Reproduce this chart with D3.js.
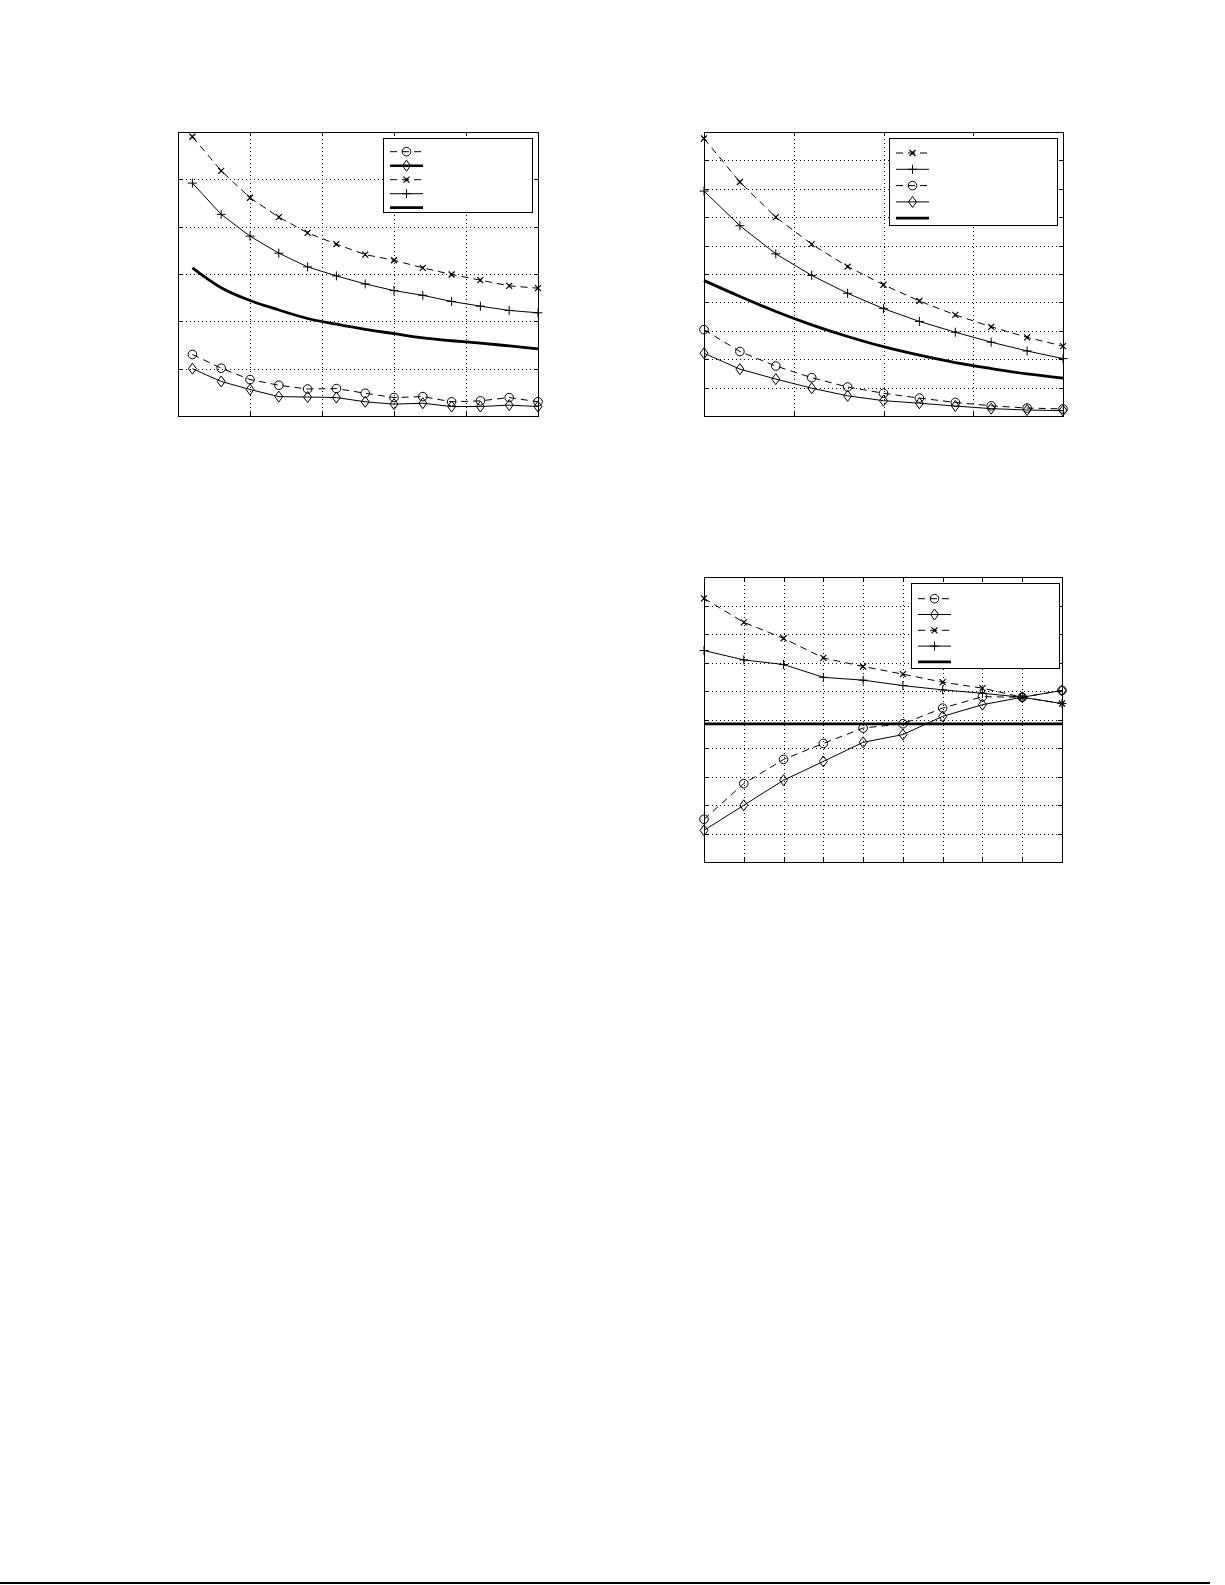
<!DOCTYPE html>
<html>
<head>
<meta charset="utf-8">
<script src="https://cdn.jsdelivr.net/npm/d3@7"></script>
<style>
  body { margin: 0; background: #fff; }
  svg { display: block; }
</style>
</head>
<body>
<div id="fig"></div>
<script>
// panel A (top left) - 13 runs
var xA = [1, 2, 3, 4, 5, 6, 7, 8, 9, 10, 11, 12, 13];
var aCircle = [1.30, 1.01, 0.77, 0.65, 0.57, 0.58, 0.48, 0.39, 0.41, 0.30, 0.32, 0.39, 0.30];
var aDiamond = [1.00, 0.73, 0.56, 0.41, 0.40, 0.39, 0.30, 0.25, 0.27, 0.20, 0.20, 0.23, 0.20];
var aCross = [5.90, 5.18, 4.61, 4.20, 3.87, 3.63, 3.41, 3.29, 3.13, 2.99, 2.87, 2.75, 2.70];
var aPlus = [4.92, 4.26, 3.80, 3.44, 3.15, 2.96, 2.79, 2.65, 2.55, 2.42, 2.32, 2.23, 2.18];
var aThick = [3.13, 2.71, 2.44, 2.24, 2.06, 1.94, 1.83, 1.74, 1.65, 1.59, 1.54, 1.48, 1.42];
var xTicksA = [0.5, 3, 5.5, 8, 10.5, 13];
var yTicksA = [0, 1, 2, 3, 4, 5, 6];

// panel B (top right) - 11 runs
var xB = [0, 1, 2, 3, 4, 5, 6, 7, 8, 9, 10];
var bCross = [9.77, 8.24, 7.00, 6.05, 5.26, 4.62, 4.05, 3.56, 3.14, 2.77, 2.46];
var bPlus = [7.92, 6.70, 5.71, 4.95, 4.32, 3.78, 3.33, 2.95, 2.60, 2.29, 2.02];
var bCircle = [3.04, 2.27, 1.76, 1.35, 1.02, 0.80, 0.63, 0.48, 0.36, 0.28, 0.25];
var bDiamond = [2.21, 1.65, 1.30, 0.98, 0.71, 0.54, 0.45, 0.35, 0.26, 0.21, 0.19];
var bThick = [4.77, 4.21, 3.68, 3.21, 2.80, 2.44, 2.14, 1.88, 1.67, 1.48, 1.33];
var xTicksB = [0, 2.5, 5, 7.5, 10];
var yTicksB = [0, 1, 2, 3, 4, 5, 6, 7, 8, 9, 10];

// panel C (bottom right) - 10 runs
var xC = [0, 1, 2, 3, 4, 5, 6, 7, 8, 9];
var cCircle = [1.50, 2.75, 3.60, 4.16, 4.70, 4.85, 5.40, 5.80, 5.78, 6.02];
var cDiamond = [1.11, 1.99, 2.87, 3.53, 4.20, 4.47, 5.11, 5.52, 5.78, 6.02];
var cCross = [9.25, 8.41, 7.85, 7.16, 6.86, 6.59, 6.31, 6.10, 5.78, 5.56];
var cPlus = [7.42, 7.09, 6.93, 6.48, 6.38, 6.19, 6.04, 5.92, 5.78, 5.56];
var cThick = [4.85, 4.85, 4.85, 4.85, 4.85, 4.85, 4.85, 4.85, 4.85, 4.85];
var xTicksC = [0, 1, 2, 3, 4, 5, 6, 7, 8, 9];
var yTicksC = [0, 1, 2, 3, 4, 5, 6, 7, 8, 9, 10];

// series styles: dash, marker, width
var styles = {
    circle:  { dash: "7,5", marker: "circle", width: 1 },
    diamond: { dash: null, marker: "diamond", width: 1 },
    diamondBold: { dash: null, marker: "diamond", width: 2.6 },
    cross:   { dash: "7,5", marker: "cross", width: 1 },
    plus:    { dash: null, marker: "plus", width: 1 },
    thick:   { dash: null, marker: null, width: 2.8 }
}

var svg = d3.select("#fig")
    .append("svg")
    .attr("width", 1225)
    .attr("height", 1585)

svg.append("rect")
    .attr("width", 1225)
    .attr("height", 1585)
    .attr("fill", "white")

function drawMarker(g, kind, cx, cy) {
    if (kind == "circle") {
        g.append("circle").attr("cx", cx).attr("cy", cy).attr("r", 4.3)
            .attr("fill", "none").attr("stroke", "black").attr("stroke-width", 1)
    } else if (kind == "diamond") {
        g.append("path")
            .attr("d", "M" + cx + "," + (cy - 5.5) + "L" + (cx + 4) + "," + cy + "L" + cx + "," + (cy + 5.5) + "L" + (cx - 4) + "," + cy + "Z")
            .attr("fill", "none").attr("stroke", "black").attr("stroke-width", 1)
    } else if (kind == "plus") {
        g.append("path")
            .attr("d", "M" + (cx - 4.5) + "," + cy + "H" + (cx + 4.5) + "M" + cx + "," + (cy - 4.5) + "V" + (cy + 4.5))
            .attr("stroke", "black").attr("stroke-width", 1)
    } else if (kind == "cross") {
        var s = 3;
        g.append("path")
            .attr("d", "M" + (cx - s) + "," + (cy - s) + "L" + (cx + s) + "," + (cy + s) +
                "M" + (cx - s) + "," + (cy + s) + "L" + (cx + s) + "," + (cy - s) +
                "M" + cx + "," + (cy - 1.5) + "V" + (cy + 1.5))
            .attr("stroke", "black").attr("stroke-width", 1.2)
    }
}

function drawPanel(cfg) {
    var w = cfg.w, h = cfg.h;
    var g = svg.append("g").attr("transform", "translate(" + cfg.left + "," + cfg.top + ")")

    var x = d3.scaleLinear().domain(cfg.xDomain).range([0, w])
    var y = d3.scaleLinear().domain(cfg.yDomain).range([h, 0])

    // dotted grid
    var grid = g.append("g").attr("class", "grid")
    grid.append("g").attr("transform", "translate(0," + h + ")")
        .call(d3.axisBottom(x).tickValues(cfg.xTicks).tickSize(-h).tickFormat(""))
    grid.append("g")
        .call(d3.axisLeft(y).tickValues(cfg.yTicks).tickSize(-w).tickFormat(""))
    grid.selectAll(".domain").remove()
    grid.selectAll("line")
        .attr("stroke", "black")
        .attr("stroke-width", 1)
        .attr("stroke-dasharray", "1,3")
        .attr("shape-rendering", "crispEdges")

    // inward ticks all round
    var ticks = g.append("g").attr("class", "ticks")
    ticks.append("g").attr("transform", "translate(0," + h + ")")
        .call(d3.axisBottom(x).tickValues(cfg.xTicks).tickSize(-4).tickFormat(""))
    ticks.append("g")
        .call(d3.axisTop(x).tickValues(cfg.xTicks).tickSize(-4).tickFormat(""))
    ticks.append("g")
        .call(d3.axisLeft(y).tickValues(cfg.yTicks).tickSize(-4).tickFormat(""))
    ticks.append("g").attr("transform", "translate(" + w + ",0)")
        .call(d3.axisRight(y).tickValues(cfg.yTicks).tickSize(-4).tickFormat(""))
    ticks.selectAll(".domain").remove()
    ticks.selectAll("line").attr("stroke", "black").attr("shape-rendering", "crispEdges")

    // series
    cfg.series.forEach(function(s) {
        var st = styles[s.style];
        var pts = s.values.map(function(v, i) { return [x(cfg.xs[i]), y(v)] })
        var line = d3.line()
        if (s.style == "thick" && cfg.smooth) line.curve(d3.curveMonotoneX)
        g.append("path")
            .attr("d", line(pts))
            .attr("fill", "none")
            .attr("stroke", "black")
            .attr("stroke-width", st.width)
            .attr("stroke-dasharray", st.dash)
        if (st.marker) {
            pts.forEach(function(p) { drawMarker(g, st.marker, p[0], p[1]) })
        }
    })

    // frame
    g.append("rect")
        .attr("width", w)
        .attr("height", h)
        .attr("fill", "none")
        .attr("stroke", "black")
        .attr("stroke-width", 1)
        .attr("shape-rendering", "crispEdges")

    // legend, no labels in the original
    var lg = cfg.legend;
    var leg = g.append("g").attr("transform", "translate(" + lg.x + "," + lg.y + ")")
    leg.append("rect")
        .attr("width", lg.w)
        .attr("height", lg.h)
        .attr("fill", "white")
        .attr("stroke", "black")
        .attr("stroke-width", 1)
        .attr("shape-rendering", "crispEdges")
    lg.keys.forEach(function(k, i) {
        var st = styles[k];
        var ry = lg.first + i * lg.gap;
        leg.append("line")
            .attr("x1", 7).attr("x2", 40)
            .attr("y1", ry).attr("y2", ry)
            .attr("stroke", "black")
            .attr("stroke-width", st.width)
            .attr("stroke-dasharray", st.dash ? "7,5" : null)
        if (st.marker) drawMarker(leg, st.marker, 23.5, ry)
    })
}

drawPanel({
    left: 178, top: 132, w: 360, h: 284,
    xDomain: [0.5, 13], yDomain: [0, 6],
    xTicks: xTicksA, yTicks: yTicksA, xs: xA, smooth: true,
    series: [
        { values: aCross, style: "cross" },
        { values: aPlus, style: "plus" },
        { values: aThick, style: "thick" },
        { values: aCircle, style: "circle" },
        { values: aDiamond, style: "diamond" }
    ],
    legend: { x: 205, y: 6, w: 149, h: 74, first: 13.7, gap: 14,
        keys: ["circle", "diamondBold", "cross", "plus", "thick"] }
})

drawPanel({
    left: 704, top: 132, w: 359, h: 284,
    xDomain: [0, 10], yDomain: [0, 10],
    xTicks: xTicksB, yTicks: yTicksB, xs: xB, smooth: true,
    series: [
        { values: bCross, style: "cross" },
        { values: bPlus, style: "plus" },
        { values: bThick, style: "thick" },
        { values: bCircle, style: "circle" },
        { values: bDiamond, style: "diamond" }
    ],
    legend: { x: 185, y: 6, w: 168, h: 87, first: 15, gap: 16.3,
        keys: ["cross", "plus", "circle", "diamond", "thick"] }
})

drawPanel({
    left: 704, top: 577, w: 358, h: 285,
    xDomain: [0, 9], yDomain: [0, 10],
    xTicks: xTicksC, yTicks: yTicksC, xs: xC, smooth: false,
    series: [
        { values: cCross, style: "cross" },
        { values: cPlus, style: "plus" },
        { values: cThick, style: "thick" },
        { values: cCircle, style: "circle" },
        { values: cDiamond, style: "diamond" }
    ],
    legend: { x: 207, y: 6, w: 148, h: 85, first: 15.7, gap: 15.8,
        keys: ["circle", "diamond", "cross", "plus", "thick"] }
})

// page rule at the bottom
svg.append("line")
    .attr("x1", 0).attr("x2", 1210)
    .attr("y1", 1583).attr("y2", 1583)
    .attr("stroke", "black")
    .attr("stroke-width", 2)
</script>
</body>
</html>
